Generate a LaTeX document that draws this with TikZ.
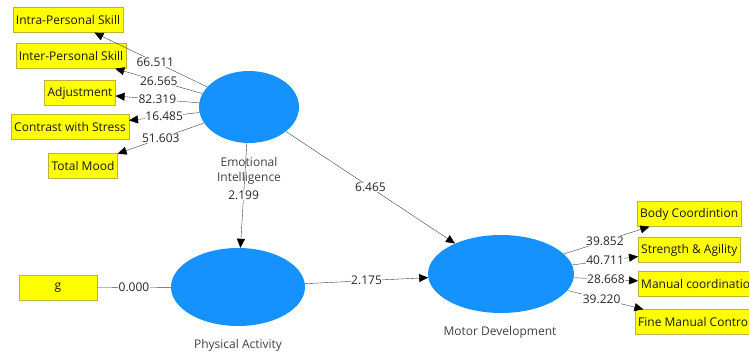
\documentclass[tikz,border=0pt]{standalone}
\usepackage{fontspec}
\setmainfont{Open Sans}
\usetikzlibrary{shapes.geometric,arrows.meta}
\definecolor{lvblue}{RGB}{22,146,255}
\definecolor{indyellow}{RGB}{255,255,0}

\begin{document}
\begin{tikzpicture}[x=1pt,y=-1pt,
        ind/.style={draw=yellow!70!black,fill=indyellow,minimum height=25pt,
            inner xsep=3pt,inner ysep=0pt,text=black!90,font=\fontsize{12}{14}\selectfont},
        lv/.style={ellipse,fill=lvblue,inner sep=0pt},
        val/.style={fill=white,inner sep=0.5pt,text=black!85,font=\fontsize{12}{14}\selectfont},
        lab/.style={text=black!75,align=center,font=\fontsize{12}{15}\selectfont},
        path/.style={draw=black!75,-{Triangle[length=9pt,width=8pt,color=black]}}]
    \useasboundingbox (0,0) rectangle (749,352);

    % latent variables
    \node[lv,minimum width=100pt,minimum height=72pt] (ei) at (249,107) {};
    \node[lv,minimum width=134pt,minimum height=78pt] (pa) at (238,287) {};
    \node[lv,minimum width=146pt,minimum height=78pt] (md) at (501,274) {};
    \node[lab] (eilab) at (249,171) {Emotional\\Intelligence};
    \node[lab] (palab) at (238,345) {Physical Activity};
    \node[lab] (mdlab) at (500,332) {Motor Development};

    % indicators
    \node[ind] (intra) at (68,20) {Intra-Personal Skill};
    \node[ind] (inter) at (71,56) {Inter-Personal Skill};
    \node[ind] (adj) at (80,93) {Adjustment};
    \node[ind] (stress) at (70,127) {Contrast with Stress};
    \node[ind] (mood) at (83,166) {Total Mood};
    \node[ind,minimum width=78pt] (g) at (58,288) {g};
    \node[ind,anchor=west] (body) at (637,214) {Body Coordintion};
    \node[ind,anchor=west] (agil) at (638,250) {Strength \& Agility};
    \node[ind,anchor=west] (manual) at (638,284) {Manual coordination};
    \node[ind,anchor=west] (fine) at (635,322) {Fine Manual Control};

    \draw[path] (ei) -- (intra) node[val,pos=0.46] {66.511};
    \draw[path] (ei) -- (inter) node[val,midway] {26.565};
    \draw[path] (ei) -- (adj) node[val,midway] {82.319};
    \draw[path] (ei) -- (stress) node[val,midway] {16.485};
    \draw[path] (ei) -- (mood) node[val,midway] {51.603};

    \draw[path] (ei) -- (pa) node[val,pos=0.5] {2.199};
    \draw[path] (ei) -- (md) node[val,midway] {6.465};
    \draw[path] (pa) -- (md) node[val,midway] {2.175};
    \draw[draw=black!75] (g) -- (pa) node[val,midway] {0.000};

    \draw[path] (md) -- (body) node[val,pos=0.48] {39.852};
    \draw[path] (md) -- (agil) node[val,midway] {40.711};
    \draw[path] (md) -- (manual) node[val,midway] {28.668};
    \draw[path] (md) -- (fine) node[val,pos=0.45] {39.220};
\end{tikzpicture}
\end{document}
